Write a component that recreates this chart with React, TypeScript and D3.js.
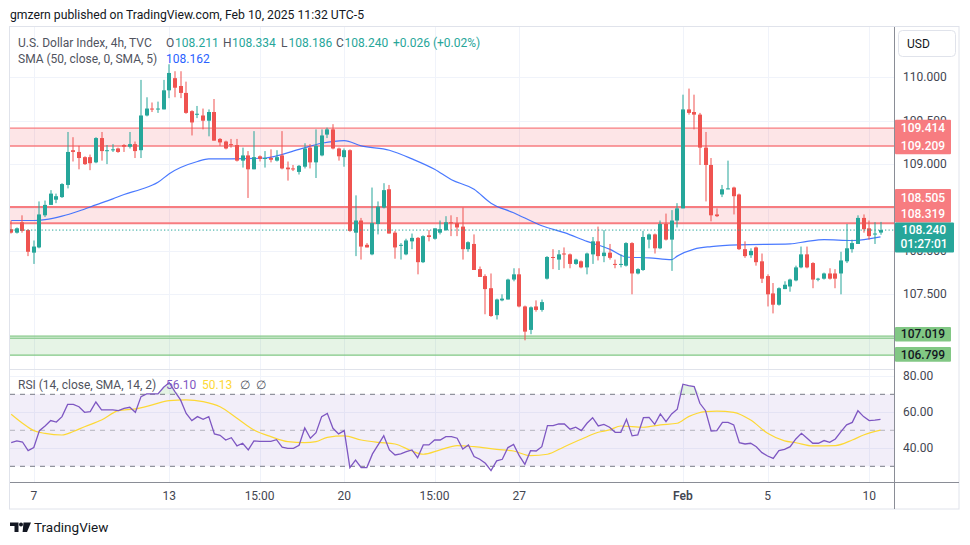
import React from 'react';
import * as d3 from 'd3';

// ---------- DATA ----------
const opens = [108.25,108.21,108.33,108.24,107.98,108.04,108.41,108.53,108.59,108.62,
108.76,109.16,109.14,109.08,109.08,109.02,109.30,109.15,109.16,109.18,
109.22,109.20,109.23,109.16,109.56,109.64,109.63,109.63,109.85,109.99,
109.90,109.82,109.61,109.57,109.56,109.50,109.60,109.29,109.26,109.23,
109.22,109.04,109.10,108.94,109.09,109.06,109.07,109.04,109.10,108.96,
108.95,108.91,108.97,109.19,109.02,109.10,109.34,109.40,109.18,109.08,
109.16,108.21,108.35,108.07,107.96,108.31,108.50,108.71,108.21,108.06,
107.96,108.11,108.15,107.87,108.18,108.14,108.21,108.24,108.33,108.32,
108.28,108.02,108.08,107.79,107.71,107.57,107.26,107.43,107.44,107.67,
107.73,107.36,107.09,107.36,107.32,107.68,107.93,107.90,107.97,107.96,
107.85,107.88,107.81,107.96,108.11,107.94,107.98,107.85,107.84,107.83,
108.09,107.74,107.78,108.13,108.19,108.03,108.31,108.13,108.35,108.49,
109.63,109.60,109.57,109.19,108.99,108.42,108.65,108.71,108.73,108.65,
108.02,107.95,108.04,107.88,107.71,107.51,107.38,107.56,107.59,107.66,
107.81,107.96,107.86,107.67,107.68,107.74,107.74,107.74,107.88,108.02,
108.08,108.38,108.26,108.19,108.211];

const highs = [108.35,108.27,108.41,108.25,108.12,108.57,108.58,108.70,108.66,108.78,
109.37,109.31,109.21,109.09,109.11,109.31,109.37,109.22,109.23,109.19,
109.23,109.37,109.26,109.97,109.77,109.71,109.72,109.97,110.15,110.07,
110.07,109.95,109.62,109.67,109.64,109.63,109.75,109.30,109.27,109.29,
109.29,109.19,109.15,109.38,109.10,109.15,109.17,109.16,109.38,109.03,
108.99,108.99,109.24,109.23,109.40,109.40,109.42,109.46,109.19,109.18,
109.17,108.64,108.38,108.09,108.73,108.57,108.78,108.76,108.23,108.09,
108.14,108.20,108.16,108.18,108.24,108.26,108.35,108.40,108.41,108.39,
108.50,108.11,108.19,107.82,107.73,107.74,107.45,107.50,107.68,107.80,
107.80,107.37,107.36,107.43,107.44,107.94,108.02,108.01,108.04,107.97,
107.91,107.89,107.98,108.16,108.28,108.24,108.08,107.90,107.96,108.10,
108.10,107.80,108.23,108.20,108.20,108.35,108.43,108.47,108.55,109.80,
109.87,109.80,109.59,109.37,109.07,108.49,108.76,109.04,108.74,108.66,
108.11,108.03,108.05,107.97,107.73,107.63,107.58,107.65,107.68,107.83,
108.05,108.05,107.87,107.69,107.75,107.80,107.79,107.99,108.31,108.13,
108.41,108.42,108.35,108.33,108.334];

const lows = [108.20,108.20,108.21,107.94,107.85,108.03,108.39,108.53,108.55,108.61,
108.72,109.03,108.94,108.99,108.93,109.01,109.04,109.00,109.14,109.13,
109.14,109.18,109.07,109.07,109.55,109.60,109.59,109.63,109.76,109.77,
109.76,109.58,109.33,109.53,109.40,109.32,109.27,109.21,109.17,109.19,
109.03,108.96,108.61,108.94,109.03,108.96,109.02,109.03,108.94,108.81,
108.92,108.88,108.95,108.95,108.84,109.09,109.30,109.17,109.04,108.97,
108.22,107.94,107.90,108.04,107.95,108.19,108.49,108.20,107.91,107.90,
107.95,108.02,107.73,107.86,108.11,108.13,108.19,108.23,108.17,108.17,
107.90,107.99,107.78,107.70,107.27,107.24,107.21,107.42,107.44,107.65,
107.35,106.97,107.04,107.30,107.30,107.67,107.79,107.78,107.80,107.80,
107.84,107.80,107.73,107.85,107.89,107.87,107.90,107.80,107.81,107.82,
107.50,107.73,107.77,108.03,107.97,108.02,108.12,107.77,108.27,108.49,
109.57,109.40,108.99,108.57,108.34,108.39,108.62,108.71,108.42,108.01,
107.92,107.92,107.83,107.63,107.36,107.28,107.37,107.56,107.53,107.65,
107.80,107.80,107.57,107.65,107.67,107.67,107.57,107.50,107.86,107.98,
108.08,108.21,108.13,108.08,108.186];

const closes = [108.21,108.26,108.23,107.99,108.05,108.42,108.53,108.66,108.63,108.77,
109.14,109.14,109.07,109.00,109.01,109.30,109.15,109.16,109.17,109.14,
109.20,109.23,109.15,109.56,109.64,109.63,109.64,109.85,110.05,109.88,
109.82,109.59,109.48,109.58,109.50,109.60,109.27,109.25,109.18,109.22,
109.04,109.10,108.94,109.08,109.06,109.07,109.05,109.08,108.95,108.94,
108.94,108.98,109.18,109.02,109.21,109.33,109.40,109.18,109.09,109.16,
108.23,108.35,108.05,108.04,108.32,108.51,108.70,108.20,108.04,108.07,
108.12,108.15,107.87,108.17,108.16,108.26,108.25,108.33,108.32,108.27,
108.02,108.10,107.78,107.70,107.56,107.25,107.44,107.45,107.67,107.73,
107.36,107.07,107.35,107.32,107.41,107.93,107.92,107.96,107.96,107.85,
107.90,107.81,107.97,108.11,107.94,107.98,107.92,107.84,107.85,108.09,
107.74,107.79,108.16,108.19,108.03,108.31,108.13,108.35,108.49,109.63,
109.59,109.57,109.19,108.99,108.41,108.40,108.71,108.72,108.63,108.02,
107.94,108.00,107.87,107.68,107.50,107.38,107.57,107.61,107.67,107.81,
107.96,107.81,107.67,107.68,107.74,107.68,107.68,107.89,108.03,108.09,
108.38,108.25,108.17,108.20,108.240];

// SMA(50): bar index -> value
const smaIdx = [0,4,6,9,12,15,18,20,23,26,28,30,33,35,39,45,51,55,59,62,67,71,75,78,82,85,89,94,98,102,106,109,113,117,118,121,124,129,138,141,144,149,154];
const smaVals = [108.35,108.35,108.36,108.40,108.46,108.53,108.60,108.65,108.71,108.79,108.89,108.96,109.03,109.06,109.06,109.07,109.17,109.24,109.27,109.21,109.16,109.06,108.94,108.82,108.71,108.55,108.44,108.29,108.21,108.11,108.02,107.93,107.92,107.90,107.94,108.02,108.05,108.07,108.08,108.11,108.13,108.12,108.162];

const rsiValues = [43.1,44.1,43.5,38.7,40.4,49.8,52.4,55.4,54.6,57.6,
64.4,64.4,63.1,60.0,60.4,65.7,61.3,61.3,61.3,60.9,
62.2,62.8,60.0,68.7,70.2,70.2,70.2,73.9,76.5,71.5,
66.9,59.4,55.4,57.6,56.1,57.6,48.0,47.2,44.6,45.9,
41.3,42.8,39.1,44.1,43.9,43.9,43.9,44.8,40.6,40.0,
40.0,41.7,51.3,45.6,48.7,57.6,59.4,51.1,48.0,49.8,
29.3,33.5,29.3,29.3,36.9,41.9,47.0,39.1,36.3,36.9,
38.1,39.1,34.8,41.9,41.9,44.6,44.6,46.5,46.5,45.6,
39.6,41.9,35.4,33.9,31.7,27.6,33.0,33.9,40.4,42.2,
35.9,31.1,38.7,38.5,40.9,52.6,52.6,53.5,53.5,50.6,
51.7,49.8,53.9,57.0,52.4,53.3,51.7,48.9,48.9,56.1,
46.9,47.4,57.0,57.2,53.3,59.1,54.8,59.1,61.7,75.6,
74.8,74.3,65.0,60.9,49.6,49.8,54.4,54.4,53.0,43.1,
42.4,42.8,40.9,37.6,35.7,34.4,38.7,39.4,40.9,45.2,
48.3,45.6,42.8,42.8,44.3,43.3,45.2,49.3,53.0,54.4,
60.9,57.6,55.4,55.7,56.1];

const rsiMaIdx = [0,2,4,6,9,11,13,16,19,22,25,28,31,34,37,40,43,46,49,52,54,56,59,62,65,68,71,73,76,79,82,86,89,92,95,98,101,104,106,108,112,115,118,120,123,125,128,131,134,137,139,142,146,149,151,154];
const rsiMaVals = [58.9,53.9,49.8,48.3,47.4,49.3,52.0,55.7,60.9,61.9,64.1,66.5,66.9,65.9,63.1,56.7,50.2,46.5,43.7,43.1,43.7,46.1,46.9,44.6,43.3,42.4,38.5,36.7,39.1,41.5,40.9,39.4,38.5,35.9,36.7,40.9,45.0,48.9,50.2,52.4,51.7,53.0,53.9,57.6,60.4,60.7,60.0,55.7,48.3,44.1,43.1,41.3,41.5,44.6,47.4,50.13];

const timeTickLabels = ['7', '13', '15:00', '20', '15:00', '27', 'Feb', '5', '10'];
const timeTickIdx = [4, 28, 44, 59, 75, 90, 119, 134, 152];
const priceGrid = [107, 107.5, 108, 108.5, 109, 109.5, 110];
const priceAxisLabels = [110, 109.5, 109, 108, 107.5];
const rsiGrid = [40, 60, 80];
const rsiAxisLabels = [80, 60, 40];
const resistanceZones = [[109.414, 109.209], [108.505, 108.319]];
const supportZone = [107.019, 106.799];
const lastPrice = 108.240;
const countdown = '01:27:01';

// ---------- STYLE ----------
const GREEN = '#26a69a';
const RED = '#ef5350';
const FONT = "Roboto, 'Noto Sans', sans-serif";
const TXT = '#131722';
const AXT = '#434651';
const LEG = '#50535e';
const GRID = '#f0f3fa';

const L = 10, R = 894, TOP = 27, PB = 369, RB = 482, CB = 509, FR = 959;

export default function App() {
  const xS = d3.scaleLinear().domain([0, 154]).range([11.2, 880.5]);
  const yP = d3.scaleLinear().domain([107.5, 110]).range([294.3, 77.3]);
  const yR = d3.scaleLinear().domain([30, 70]).range([466.3, 394.3]);

  const smaPath = d3.line<number>().x((_, i) => xS(smaIdx[i])).y(d => yP(d)).curve(d3.curveMonotoneX)(smaVals) || '';
  const rsiPath = d3.line<number>().x((_, i) => xS(i)).y(d => yR(d))(rsiValues) || '';
  const rsiMaPath = d3.line<number>().x((_, i) => xS(rsiMaIdx[i])).y(d => yR(d)).curve(d3.curveMonotoneX)(rsiMaVals) || '';
  const obArea = d3.area<number>().x((_, i) => xS(i)).y0(yR(70)).y1(d => yR(Math.max(d, 70)))(rsiValues) || '';

  const fmt = d3.format('.3f');
  const fmt2 = d3.format('.2f');

  const curY = yP(lastPrice);
  const curTop = curY - 7.5;
  const LH = 16.8;
  const redLabels: { v: number; y: number }[] = [];
  {
    const z0 = resistanceZones[0];
    redLabels.push({ v: z0[0], y: yP(z0[0]) });
    redLabels.push({ v: z0[1], y: Math.max(yP(z0[1]), yP(z0[0]) + LH) });
    const z1 = resistanceZones[1];
    const yLow = Math.min(yP(z1[1]), curTop - LH / 2);
    const yHigh = Math.min(yP(z1[0]), yLow - LH);
    redLabels.push({ v: z1[0], y: yHigh });
    redLabels.push({ v: z1[1], y: yLow });
  }

  return (
    <div style={{ position: 'absolute', left: 0, top: 0 }}>
      <svg width={970} height={545} style={{ display: 'block', fontFamily: FONT }}>
        <defs>
          <clipPath id="pricePane"><rect x={L} y={TOP} width={R - L} height={PB - TOP} /></clipPath>
          <clipPath id="rsiPane"><rect x={L} y={PB} width={R - L} height={RB - PB} /></clipPath>
        </defs>
        <rect x={0} y={0} width={970} height={545} fill="#ffffff" />

        <text x={10} y={19} fontSize={12.2} fill={TXT}>gmzern published on TradingView.com, Feb 10, 2025 11:32 UTC-5</text>

        <rect x={9.5} y={26.5} width={FR - 9.5} height={CB - 26.5} fill="none" stroke="#e0e3eb" />

        <g clipPath="url(#pricePane)">
          {priceGrid.map(v => (
            <line key={v} x1={L} x2={R} y1={Math.round(yP(v)) + 0.5} y2={Math.round(yP(v)) + 0.5} stroke={GRID} />
          ))}
        </g>
        {timeTickIdx.map((t, k) => (
          <line key={k} x1={Math.round(xS(t)) + 0.5} x2={Math.round(xS(t)) + 0.5} y1={TOP} y2={RB} stroke={GRID} />
        ))}
        {rsiGrid.map(v => (
          <line key={v} x1={L} x2={R} y1={Math.round(yR(v)) + 0.5} y2={Math.round(yR(v)) + 0.5} stroke={GRID} />
        ))}

        <g clipPath="url(#pricePane)">
          {resistanceZones.map((z, k) => (
            <g key={k}>
              <rect x={L} width={R - L} y={yP(z[0])} height={yP(z[1]) - yP(z[0])} fill="rgba(242,54,69,0.13)" />
              <line x1={L} x2={R} y1={yP(z[0])} y2={yP(z[0])} stroke="#f77c80" strokeWidth={k === 0 ? 1.4 : 2} />
              <line x1={L} x2={R} y1={yP(z[1])} y2={yP(z[1])} stroke="#f77c80" strokeWidth={k === 0 ? 1.4 : 2} />
            </g>
          ))}
          <rect x={L} width={R - L} y={yP(supportZone[0]) + 2} height={yP(supportZone[1]) - yP(supportZone[0]) - 2} fill="rgba(76,175,80,0.14)" />
          <line x1={L} x2={R} y1={yP(supportZone[0])} y2={yP(supportZone[0])} stroke="#81c784" strokeWidth={1.3} />
          <line x1={L} x2={R} y1={yP(supportZone[0]) + 2} y2={yP(supportZone[0]) + 2} stroke="#81c784" strokeWidth={1.3} />
          <line x1={L} x2={R} y1={yP(supportZone[1])} y2={yP(supportZone[1])} stroke="#81c784" strokeWidth={1.3} />

          <path d={smaPath} fill="none" stroke="#2962ff" strokeWidth={1.2} strokeOpacity={0.85} />

          {opens.map((o, i) => {
            const c = closes[i];
            const col = c >= o ? GREEN : RED;
            const px = Math.round(xS(i));
            const yT = yP(Math.max(o, c));
            const yB = yP(Math.min(o, c));
            return (
              <g key={i}>
                <rect x={px - 0.5} width={1} y={yP(highs[i])} height={yP(lows[i]) - yP(highs[i])} fill={col} />
                <rect x={px - 2} width={4} y={yT} height={Math.max(1, yB - yT)} fill={col} />
              </g>
            );
          })}

          <line x1={L} x2={R} y1={curY} y2={curY} stroke={GREEN} strokeWidth={1} strokeDasharray="1.3,2.2" />
        </g>

        <line x1={L} x2={R} y1={PB + 0.5} y2={PB + 0.5} stroke="#e0e3eb" />

        <g clipPath="url(#rsiPane)">
          <rect x={L} width={R - L} y={yR(70)} height={yR(30) - yR(70)} fill="rgba(126,87,194,0.1)" />
          <line x1={L} x2={R} y1={yR(70)} y2={yR(70)} stroke="#787b86" strokeDasharray="5,5" />
          <line x1={L} x2={R} y1={yR(30)} y2={yR(30)} stroke="#787b86" strokeDasharray="5,5" />
          <line x1={L} x2={R} y1={yR(50)} y2={yR(50)} stroke="#787b86" strokeOpacity={0.5} strokeDasharray="5,5" />
          <path d={obArea} fill="rgba(76,175,80,0.15)" />
          <path d={rsiMaPath} fill="none" stroke="#fdd835" strokeWidth={1.2} />
          <path d={rsiPath} fill="none" stroke="#7e57c2" strokeWidth={1.3} />
        </g>

        <line x1={R + 0.5} x2={R + 0.5} y1={TOP} y2={CB} stroke="#8a8d96" />
        <line x1={L} x2={FR} y1={RB + 0.5} y2={RB + 0.5} stroke="#8a8d96" />

        {timeTickIdx.map((t, k) => (
          <text key={k} x={xS(t)} y={500} fontSize={12} textAnchor="middle" fill={AXT}
            fontWeight={timeTickLabels[k] === 'Feb' ? 600 : 400}>{timeTickLabels[k]}</text>
        ))}

        {priceAxisLabels.map(v => (
          <text key={v} x={903} y={yP(v) + 4} fontSize={12} fill={AXT}>{fmt(v)}</text>
        ))}
        {rsiAxisLabels.map(v => (
          <text key={v} x={903} y={yR(v) + 4} fontSize={12} fill={AXT}>{fmt2(v)}</text>
        ))}

        {[0, 1].map(z => {
          const a = redLabels[z * 2], b = redLabels[z * 2 + 1];
          return (
            <g key={z}>
              <rect x={895} width={56} y={a.y - LH / 2} height={b.y - a.y + LH} fill="#f77c80" rx={1} />
              <text x={923} y={a.y + 4.2} fontSize={12} fontWeight={500} textAnchor="middle" fill="#fff">{fmt(a.v)}</text>
              <text x={923} y={b.y + 4.2} fontSize={12} fontWeight={500} textAnchor="middle" fill="#fff">{fmt(b.v)}</text>
            </g>
          );
        })}
        <rect x={895} width={59} y={curTop} height={30} fill={GREEN} rx={1} />
        <text x={924} y={curY + 4.2} fontSize={12} fontWeight={500} textAnchor="middle" fill="#fff">{fmt(lastPrice)}</text>
        <text x={924} y={curY + 18} fontSize={12} fontWeight={500} textAnchor="middle" fill="#fff">{countdown}</text>
        {supportZone.map((v, k) => (
          <g key={k}>
            <rect x={895} width={56} y={yP(v) - 7.3 + (k === 1 ? -0.8 : -1.8)} height={14.6} fill="#81c784" rx={1} />
            <text x={923} y={yP(v) + 4.2 + (k === 1 ? -0.8 : -1.8)} fontSize={12} fontWeight={500} textAnchor="middle" fill={TXT}>{fmt(v)}</text>
          </g>
        ))}

        <rect x={898.5} y={30.5} width={57} height={26} rx={4} fill="#fff" stroke="#e0e3eb" />
        <text x={907} y={48} fontSize={12} fill={TXT}>USD</text>

        <g fontSize={12}>
          <text x={18} y={47} fill={LEG}>U.S. Dollar Index, 4h, TVC</text>
          <text x={166} y={47} fill={LEG}>O</text>
          <text x={175} y={47} fill={GREEN}>{fmt(opens[154])}</text>
          <text x={223} y={47} fill={LEG}>H</text>
          <text x={232} y={47} fill={GREEN}>{fmt(highs[154])}</text>
          <text x={281} y={47} fill={LEG}>L</text>
          <text x={288.5} y={47} fill={GREEN}>{fmt(lows[154])}</text>
          <text x={336} y={47} fill={LEG}>C</text>
          <text x={344.5} y={47} fill={GREEN}>{fmt(closes[154])}</text>
          <text x={393} y={47} fill={GREEN}>+0.026 (+0.02%)</text>
          <text x={18} y={63} fill={LEG}>SMA (50, close, 0, SMA, 5)</text>
          <text x={166} y={63} fill="#2962ff">{fmt(smaVals[smaVals.length - 1])}</text>
          <text x={18} y={389} fill={LEG}>RSI (14, close, SMA, 14, 2)</text>
          <text x={166} y={389} fill="#7e57c2">{fmt2(rsiValues[rsiValues.length - 1])}</text>
          <text x={202} y={389} fill="#fdd835">{fmt2(rsiMaVals[rsiMaVals.length - 1])}</text>
          <text x={240} y={389} fill={LEG}>∅</text>
          <text x={256} y={389} fill={LEG}>∅</text>
        </g>

        <g fill={TXT}>
          <path d="M10,522.5 H18.5 V532 H14.5 V526 H10 Z" />
          <circle cx={21} cy={524.6} r={2} />
          <path d="M23.5,522.5 H31 L27,532 H22.6 Z" />
        </g>
        <text x={34} y={532} fontSize={13.5} fill={TXT}>TradingView</text>
      </svg>
    </div>
  );
}
